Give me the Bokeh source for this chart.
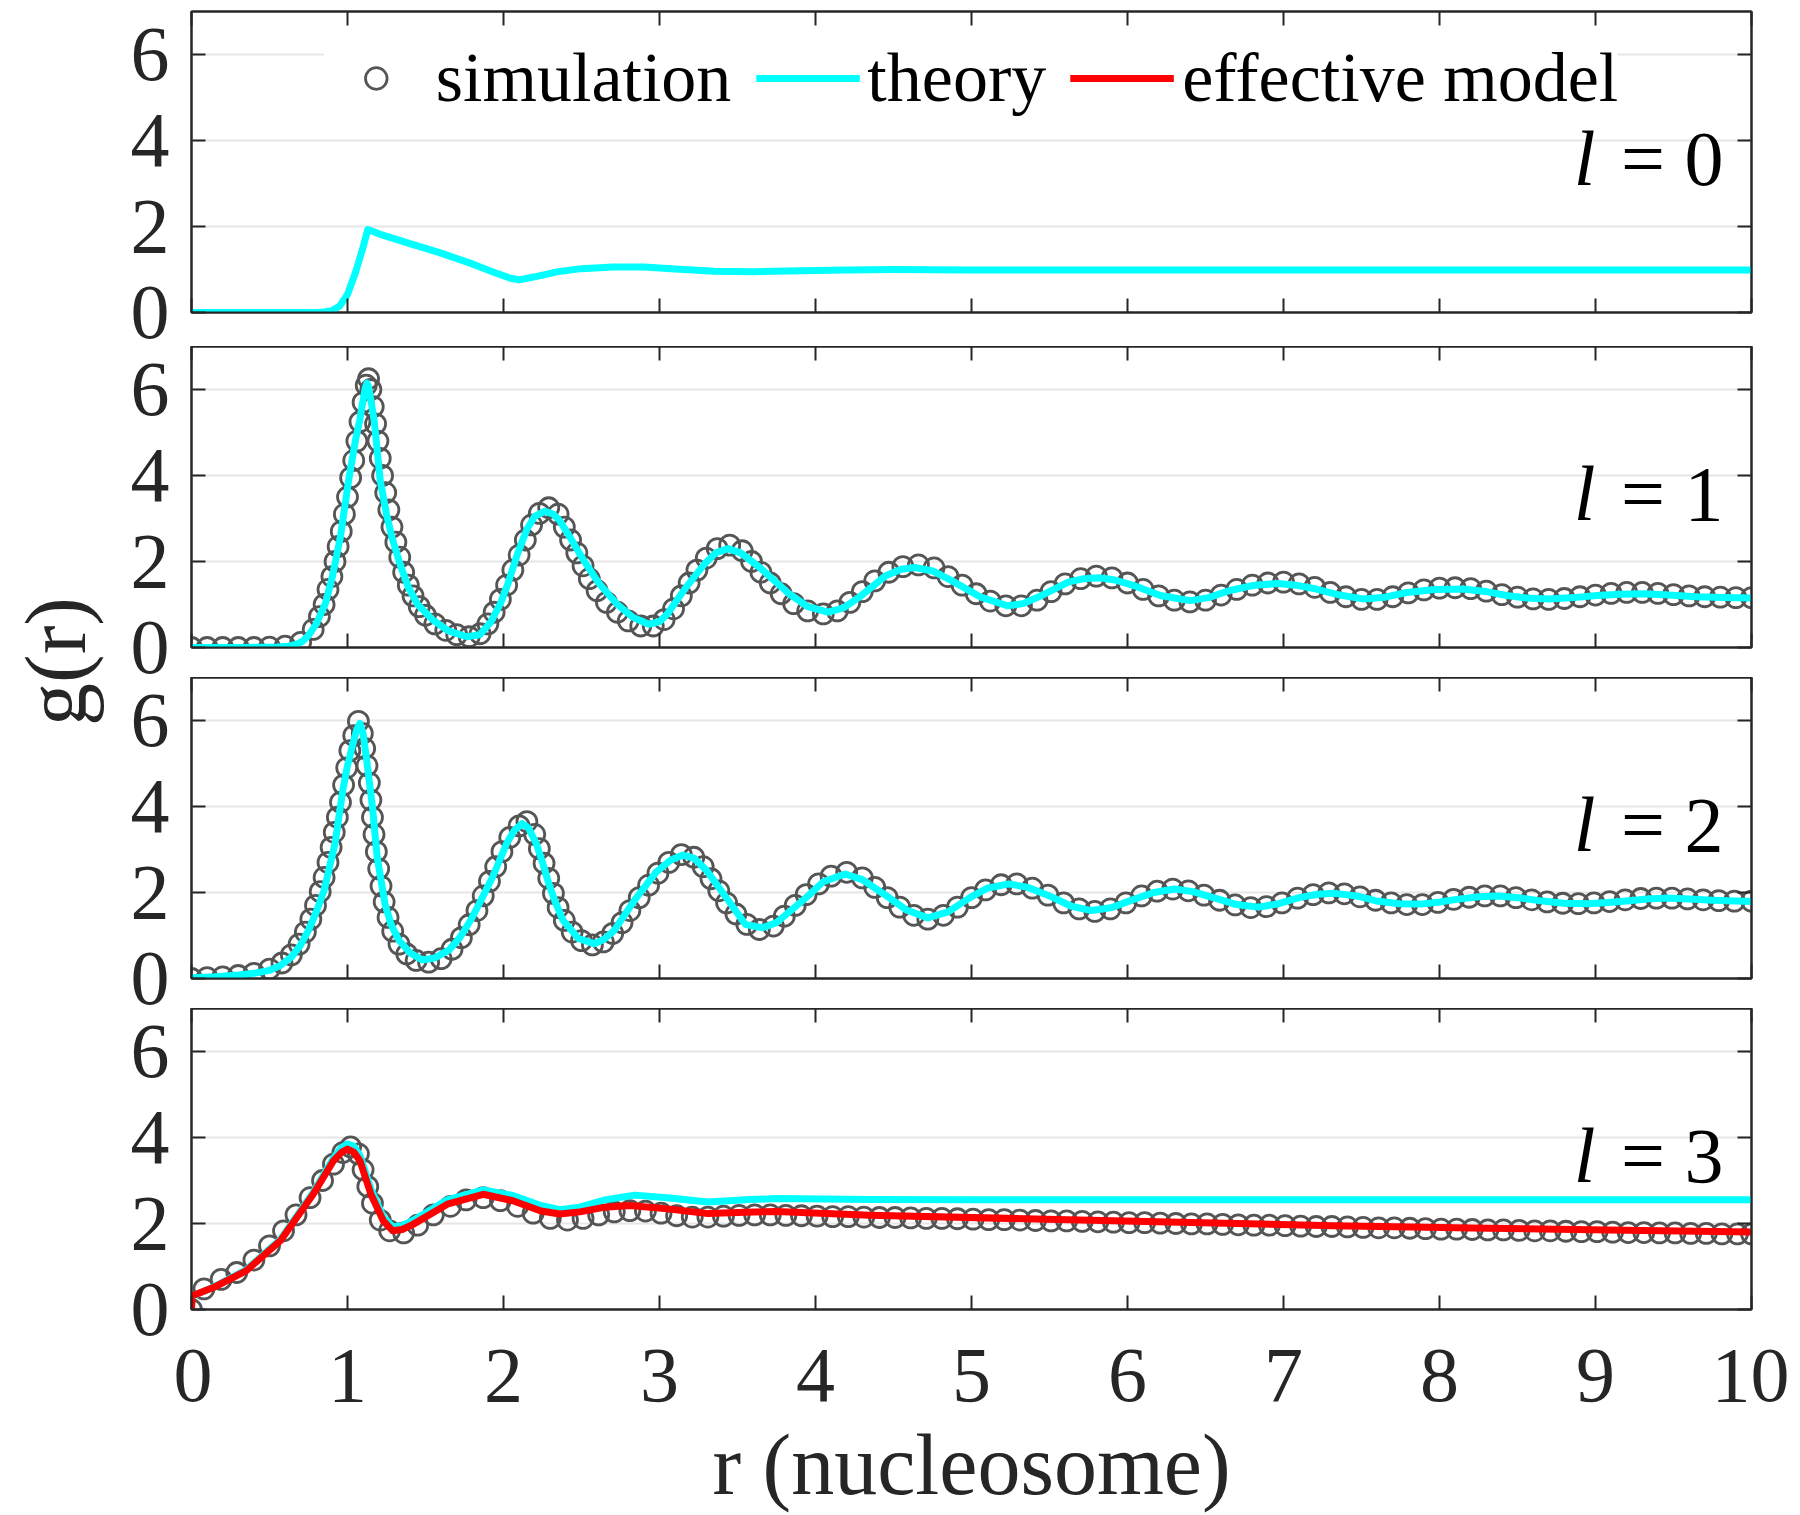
from math import pi
from bokeh.plotting import figure
from bokeh.models import (ColumnDataSource, FixedTicker, LinearAxis, Range1d,
                          Label, Legend, LegendItem)
from bokeh.layouts import row, column
from bokeh.embed import file_html
from bokeh.resources import INLINE

FONT = "Liberation Serif"
X_TICKS = [0, 1, 2, 3, 4, 5, 6, 7, 8, 9, 10]
Y_TICKS = [0, 2, 4, 6]
PANEL_NAMES = ["0", "1", "2", "3"]
X_LABEL = "r (nucleosome)"
Y_LABEL = "g(r)"

# ---- l = 0 : theory only ----
theory0 = [(0, 0), (0.5, 0), (0.8, 0), (0.85, 0.01), (0.9, 0.04), (0.95, 0.15),
           (1.0, 0.42), (1.05, 0.92), (1.1, 1.52), (1.13, 1.93), (1.16, 1.89),
           (1.2, 1.83), (1.4, 1.6), (1.6, 1.38), (1.8, 1.13), (1.95, 0.92),
           (2.05, 0.79), (2.1, 0.76), (2.2, 0.83), (2.35, 0.95), (2.5, 1.02),
           (2.7, 1.06), (2.9, 1.06), (3.1, 1.01), (3.35, 0.96), (3.6, 0.95),
           (3.9, 0.97), (4.2, 0.99), (4.5, 1.0), (5.0, 0.99), (6, 0.99),
           (7, 0.99), (8, 0.99), (9, 0.99), (10, 0.99)]

# ---- l = 1 ----
theory1 = [(0, 0.0), (0.3, 0.0), (0.55, 0.01), (0.62, 0.03), (0.67, 0.07), (0.71, 0.14),
           (0.75, 0.28), (0.8, 0.55), (0.858, 1.02), (0.9, 1.6), (0.954, 2.56),
           (1.007, 3.88), (1.05, 4.8), (1.078, 5.28), (1.1, 5.75), (1.115, 6.05),
           (1.125, 6.15), (1.135, 6.05), (1.15, 5.75), (1.172, 5.25), (1.21, 3.88),
           (1.25, 3.1), (1.285, 2.56), (1.34, 1.9), (1.39, 1.40), (1.45, 1.0),
           (1.55, 0.63), (1.65, 0.38), (1.765, 0.25), (1.85, 0.3), (1.92, 0.6),
           (1.98, 1.02), (2.03, 1.5), (2.09, 2.18), (2.15, 2.75), (2.2, 3.05),
           (2.266, 3.17), (2.32, 3.1), (2.36, 2.95), (2.42, 2.6), (2.51, 2.05),
           (2.61, 1.5), (2.73, 1.0), (2.83, 0.7), (2.93, 0.54), (3.0, 0.6),
           (3.05, 0.78), (3.17, 1.40), (3.29, 1.95), (3.36, 2.2), (3.44, 2.30),
           (3.52, 2.2), (3.64, 1.87), (3.83, 1.25), (3.95, 0.95), (4.08, 0.82),
           (4.18, 0.92), (4.28, 1.17), (4.45, 1.67), (4.55, 1.82), (4.64, 1.86),
           (4.75, 1.78), (4.87, 1.56), (5.06, 1.17), (5.23, 0.97), (5.33, 1.02),
           (5.45, 1.21), (5.62, 1.52), (5.72, 1.6), (5.82, 1.62), (5.92, 1.57),
           (6.04, 1.44), (6.21, 1.21), (6.40, 1.09), (6.52, 1.16), (6.65, 1.32),
           (6.8, 1.44), (6.96, 1.49), (7.08, 1.45), (7.21, 1.36), (7.36, 1.22),
           (7.51, 1.13), (7.65, 1.17), (7.79, 1.28), (7.97, 1.35), (8.15, 1.36),
           (8.3, 1.3), (8.43, 1.21), (8.56, 1.15), (8.70, 1.13), (8.86, 1.16),
           (9.01, 1.21), (9.16, 1.24), (9.31, 1.25), (9.47, 1.22), (9.64, 1.18),
           (9.82, 1.16), (10, 1.15)]

sim1 = [(0.0, 0.0), (0.1, 0.0), (0.2, 0.0), (0.3, 0.0), (0.4, 0.0), (0.5, 0.01),
        (0.6, 0.03), (0.7, 0.12), (0.78, 0.42), (0.82, 0.72), (0.85, 1.0),
        (0.875, 1.35), (0.9, 1.65), (0.92, 2.0), (0.94, 2.35), (0.96, 2.7),
        (0.98, 3.1), (1.0, 3.5), (1.02, 3.95), (1.04, 4.35), (1.06, 4.8),
        (1.08, 5.25), (1.1, 5.7), (1.12, 6.1), (1.135, 6.25), (1.15, 6.0),
        (1.165, 5.6), (1.18, 5.2), (1.195, 4.8), (1.21, 4.4), (1.225, 4.0),
        (1.245, 3.6), (1.265, 3.2), (1.285, 2.8), (1.31, 2.45), (1.335, 2.1),
        (1.36, 1.75), (1.39, 1.45), (1.42, 1.2), (1.46, 0.95), (1.5, 0.75),
        (1.56, 0.55), (1.63, 0.4), (1.7, 0.3), (1.78, 0.25), (1.85, 0.32),
        (1.9, 0.55), (1.94, 0.82), (1.98, 1.12), (2.02, 1.45), (2.06, 1.8),
        (2.1, 2.15), (2.14, 2.5), (2.18, 2.85), (2.23, 3.12), (2.29, 3.25),
        (2.35, 3.1), (2.39, 2.8), (2.43, 2.5), (2.47, 2.2), (2.51, 1.9),
        (2.55, 1.6), (2.6, 1.32), (2.66, 1.05), (2.73, 0.82), (2.8, 0.62),
        (2.88, 0.5), (2.96, 0.5), (3.03, 0.65), (3.09, 0.9), (3.14, 1.2),
        (3.19, 1.5), (3.24, 1.8), (3.3, 2.08), (3.37, 2.3), (3.45, 2.38),
        (3.53, 2.25), (3.59, 2.0), (3.65, 1.75), (3.71, 1.5), (3.78, 1.25),
        (3.86, 1.02), (3.95, 0.85), (4.05, 0.78), (4.14, 0.85), (4.22, 1.05),
        (4.3, 1.3), (4.38, 1.55), (4.47, 1.75), (4.56, 1.88), (4.66, 1.92),
        (4.76, 1.85), (4.85, 1.65), (4.94, 1.45), (5.03, 1.25), (5.12, 1.08),
        (5.22, 0.97), (5.32, 0.97), (5.42, 1.1), (5.51, 1.3), (5.6, 1.48),
        (5.7, 1.6), (5.8, 1.66), (5.9, 1.62), (6.0, 1.5), (6.1, 1.35),
        (6.2, 1.2), (6.3, 1.1), (6.4, 1.06), (6.5, 1.1), (6.6, 1.22),
        (6.7, 1.35), (6.8, 1.45), (6.9, 1.5), (7.0, 1.52), (7.1, 1.48),
        (7.2, 1.4), (7.3, 1.28), (7.4, 1.18), (7.5, 1.12), (7.6, 1.12),
        (7.7, 1.18), (7.8, 1.27), (7.9, 1.34), (8.0, 1.38), (8.1, 1.39),
        (8.2, 1.37), (8.3, 1.31), (8.4, 1.23), (8.5, 1.17), (8.6, 1.13),
        (8.7, 1.12), (8.8, 1.14), (8.9, 1.18), (9.0, 1.22), (9.1, 1.26),
        (9.2, 1.28), (9.3, 1.28), (9.4, 1.26), (9.5, 1.23), (9.6, 1.2),
        (9.7, 1.18), (9.8, 1.17), (9.9, 1.16), (10.0, 1.16)]

# ---- l = 2 ----
theory2 = [(0, 0.02), (0.15, 0.04), (0.30, 0.08), (0.40, 0.12), (0.50, 0.19),
           (0.57, 0.3), (0.64, 0.50), (0.70, 0.78), (0.75, 1.12), (0.80, 1.55),
           (0.85, 2.05), (0.92, 3.14), (0.97, 4.38), (1.0, 4.95), (1.03, 5.39),
           (1.06, 5.8), (1.08, 5.93), (1.10, 5.7), (1.12, 5.16), (1.16, 3.99),
           (1.19, 2.83), (1.24, 1.74), (1.28, 1.25), (1.33, 0.89), (1.40, 0.6),
           (1.48, 0.43), (1.56, 0.48), (1.65, 0.66), (1.72, 0.95), (1.79, 1.36),
           (1.86, 1.85), (1.93, 2.36), (2.02, 3.14), (2.07, 3.45), (2.12, 3.60),
           (2.16, 3.5), (2.21, 3.14), (2.25, 2.7), (2.29, 2.21), (2.33, 1.8),
           (2.38, 1.36), (2.48, 0.93), (2.58, 0.81), (2.64, 0.9), (2.71, 1.12),
           (2.84, 1.82), (2.98, 2.48), (3.07, 2.75), (3.15, 2.87), (3.22, 2.8),
           (3.30, 2.52), (3.44, 1.82), (3.55, 1.26), (3.66, 1.18), (3.75, 1.3),
           (3.94, 1.88), (4.05, 2.25), (4.19, 2.43), (4.30, 2.3), (4.44, 1.96),
           (4.58, 1.6), (4.72, 1.41), (4.85, 1.55), (4.99, 1.88), (5.1, 2.1),
           (5.24, 2.20), (5.36, 2.12), (5.50, 1.92), (5.64, 1.68), (5.77, 1.58),
           (5.9, 1.65), (6.04, 1.84), (6.17, 2.0), (6.30, 2.08), (6.42, 2.02),
           (6.55, 1.88), (6.70, 1.72), (6.84, 1.66), (6.97, 1.74), (7.10, 1.88),
           (7.22, 1.96), (7.33, 1.98), (7.47, 1.92), (7.60, 1.80), (7.74, 1.74),
           (7.88, 1.73), (8.0, 1.78), (8.11, 1.84), (8.25, 1.9), (8.38, 1.92),
           (8.52, 1.87), (8.66, 1.80), (8.8, 1.75), (8.95, 1.74), (9.08, 1.77),
           (9.20, 1.80), (9.33, 1.85), (9.46, 1.87), (9.6, 1.85), (9.75, 1.82),
           (10, 1.79)]

sim2 = [(0.0, 0.0), (0.1, 0.02), (0.2, 0.04), (0.3, 0.07), (0.4, 0.12), (0.5, 0.22),
        (0.58, 0.36), (0.64, 0.55), (0.69, 0.8), (0.73, 1.08), (0.765, 1.38),
        (0.795, 1.7), (0.825, 2.02), (0.85, 2.35), (0.875, 2.7), (0.895, 3.05),
        (0.915, 3.4), (0.935, 3.75), (0.955, 4.1), (0.975, 4.5), (0.995, 4.9),
        (1.015, 5.3), (1.04, 5.65), (1.07, 5.98), (1.095, 5.7), (1.11, 5.35),
        (1.125, 4.95), (1.14, 4.55), (1.15, 4.15), (1.16, 3.75), (1.17, 3.35),
        (1.185, 2.95), (1.2, 2.55), (1.215, 2.15), (1.235, 1.78), (1.26, 1.42),
        (1.29, 1.1), (1.33, 0.8), (1.38, 0.57), (1.44, 0.42), (1.52, 0.38),
        (1.6, 0.46), (1.67, 0.68), (1.73, 0.95), (1.78, 1.25), (1.83, 1.58),
        (1.87, 1.92), (1.91, 2.26), (1.95, 2.6), (1.99, 2.95), (2.04, 3.28),
        (2.1, 3.55), (2.15, 3.65), (2.2, 3.35), (2.23, 3.02), (2.26, 2.68),
        (2.29, 2.33), (2.32, 1.98), (2.35, 1.65), (2.39, 1.35), (2.44, 1.08),
        (2.5, 0.88), (2.57, 0.78), (2.64, 0.85), (2.7, 1.05), (2.76, 1.3),
        (2.81, 1.58), (2.87, 1.88), (2.93, 2.17), (2.99, 2.45), (3.06, 2.7),
        (3.14, 2.88), (3.22, 2.82), (3.28, 2.6), (3.33, 2.32), (3.38, 2.04),
        (3.43, 1.76), (3.49, 1.5), (3.56, 1.26), (3.64, 1.14), (3.73, 1.22),
        (3.8, 1.45), (3.87, 1.7), (3.94, 1.95), (4.02, 2.2), (4.1, 2.38),
        (4.2, 2.47), (4.3, 2.34), (4.38, 2.12), (4.46, 1.88), (4.54, 1.66),
        (4.63, 1.47), (4.72, 1.38), (4.82, 1.47), (4.91, 1.66), (5.0, 1.88),
        (5.09, 2.06), (5.19, 2.18), (5.29, 2.2), (5.39, 2.1), (5.49, 1.94),
        (5.59, 1.76), (5.69, 1.62), (5.79, 1.56), (5.89, 1.62), (5.99, 1.76),
        (6.09, 1.92), (6.19, 2.03), (6.29, 2.08), (6.39, 2.04), (6.49, 1.94),
        (6.59, 1.82), (6.69, 1.71), (6.79, 1.65), (6.89, 1.67), (6.99, 1.76),
        (7.09, 1.87), (7.19, 1.95), (7.29, 1.99), (7.39, 1.97), (7.49, 1.9),
        (7.59, 1.82), (7.69, 1.76), (7.79, 1.72), (7.89, 1.72), (7.99, 1.77),
        (8.09, 1.84), (8.19, 1.89), (8.29, 1.92), (8.39, 1.92), (8.49, 1.88),
        (8.59, 1.83), (8.69, 1.78), (8.79, 1.75), (8.89, 1.74), (8.99, 1.76),
        (9.09, 1.79), (9.19, 1.83), (9.29, 1.86), (9.39, 1.87), (9.49, 1.87),
        (9.59, 1.85), (9.69, 1.83), (9.79, 1.81), (9.89, 1.8), (10.0, 1.8)]

# ---- l = 3 ----
theory3 = [(0, 0.3), (0.14, 0.52), (0.35, 0.92), (0.57, 1.63), (0.78, 2.72),
           (0.91, 3.52), (0.96, 3.76), (1.0, 3.85), (1.04, 3.8), (1.08, 3.58),
           (1.15, 2.8), (1.23, 2.15), (1.29, 1.92), (1.35, 1.95), (1.42, 2.07),
           (1.64, 2.55), (1.87, 2.78), (2.06, 2.65), (2.24, 2.42), (2.36, 2.32),
           (2.49, 2.38), (2.65, 2.55), (2.84, 2.66), (3.05, 2.6), (3.31, 2.5),
           (3.55, 2.55), (3.75, 2.58), (4.35, 2.56), (5, 2.55), (6, 2.55),
           (7, 2.55), (8, 2.55), (9, 2.55), (10, 2.55)]

effective3 = [(0, 0.0), (0.005, 0.32), (0.14, 0.51), (0.35, 0.90), (0.57, 1.60),
              (0.78, 2.68), (0.91, 3.46), (0.96, 3.65), (1.0, 3.73), (1.04, 3.66),
              (1.08, 3.46), (1.15, 2.68), (1.23, 2.06), (1.29, 1.83), (1.35, 1.86),
              (1.42, 1.98), (1.64, 2.45), (1.87, 2.68), (2.06, 2.53), (2.24, 2.29),
              (2.36, 2.22), (2.49, 2.27), (2.65, 2.38), (2.81, 2.42), (3.05, 2.34),
              (3.31, 2.23), (3.55, 2.26), (3.75, 2.28), (4.35, 2.19), (5.34, 2.11),
              (6.33, 2.03), (7.32, 1.95), (8.31, 1.89), (9.30, 1.84), (10, 1.80)]

sim3 = [(0.0, 0.0), (0.08, 0.48), (0.19, 0.7), (0.29, 0.86), (0.4, 1.15), (0.5, 1.48),
        (0.59, 1.83), (0.67, 2.2), (0.76, 2.6), (0.84, 3.0), (0.91, 3.38),
        (0.97, 3.65), (1.02, 3.78), (1.07, 3.62), (1.1, 3.25), (1.13, 2.86),
        (1.16, 2.47), (1.21, 2.08), (1.27, 1.83), (1.36, 1.78), (1.45, 1.96),
        (1.55, 2.2), (1.66, 2.4), (1.76, 2.55), (1.87, 2.6), (1.98, 2.53),
        (2.09, 2.4), (2.19, 2.24), (2.3, 2.12), (2.41, 2.08), (2.51, 2.12),
        (2.61, 2.2), (2.71, 2.27), (2.81, 2.3), (2.91, 2.29), (3.01, 2.24),
        (3.11, 2.18), (3.21, 2.15), (3.31, 2.15), (3.41, 2.17), (3.51, 2.19),
        (3.61, 2.2), (3.71, 2.2), (3.81, 2.19), (3.91, 2.18), (4.01, 2.17),
        (4.11, 2.16), (4.21, 2.16), (4.31, 2.15), (4.41, 2.14), (4.51, 2.14),
        (4.61, 2.13), (4.71, 2.12), (4.81, 2.12), (4.91, 2.11), (5.01, 2.1),
        (5.11, 2.09), (5.21, 2.09), (5.31, 2.08), (5.41, 2.07), (5.51, 2.06),
        (5.61, 2.06), (5.71, 2.05), (5.81, 2.04), (5.91, 2.03), (6.01, 2.02),
        (6.11, 2.02), (6.21, 2.01), (6.31, 2.0), (6.41, 1.99), (6.51, 1.99),
        (6.61, 1.98), (6.71, 1.97), (6.81, 1.96), (6.91, 1.96), (7.01, 1.95),
        (7.11, 1.94), (7.21, 1.93), (7.31, 1.93), (7.41, 1.92), (7.51, 1.91),
        (7.61, 1.9), (7.71, 1.9), (7.81, 1.89), (7.91, 1.88), (8.01, 1.87),
        (8.11, 1.87), (8.21, 1.86), (8.31, 1.85), (8.41, 1.85), (8.51, 1.84),
        (8.61, 1.83), (8.71, 1.83), (8.81, 1.82), (8.91, 1.81), (9.01, 1.81),
        (9.11, 1.8), (9.21, 1.79), (9.31, 1.79), (9.41, 1.78), (9.51, 1.78),
        (9.61, 1.77), (9.71, 1.77), (9.81, 1.76), (9.91, 1.76), (10.0, 1.76)]

AX_COLOR = "#262626"
CYAN = "#00FFFF"
RED = "#FF0000"
SIM_COLOR = "#555555"
TICK_FONT = "78px"

# layout (pixels)
PAGE_H = 1515
FRAME_W = 1560
FRAME_H = 301
Y_MAX = 7
BORDERS = [(11, 34), (0, 30), (0, 30), (0, 206)]   # (top, bottom) per panel
STRIP_FRAME_W = 116
STRIP_AXIS_W = 57
PANEL_LEFT = 18


def src(pairs):
    return ColumnDataSource(data=dict(x=[p[0] for p in pairs], y=[p[1] for p in pairs]))


def style_axis(ax, ticks, labels):
    ax.ticker = FixedTicker(ticks=ticks)
    ax.major_tick_in = 14
    ax.major_tick_out = 0
    ax.minor_tick_line_color = None
    ax.major_tick_line_color = AX_COLOR
    ax.major_tick_line_width = 2
    ax.axis_line_color = AX_COLOR
    ax.axis_line_width = 2
    if labels:
        ax.major_label_text_font = FONT
        ax.major_label_text_font_size = TICK_FONT
        ax.major_label_text_color = AX_COLOR
    else:
        ax.major_label_text_font_size = "0px"
        ax.major_label_text_color = None
        ax.major_label_text_alpha = 0
        ax.major_label_standoff = 0


def make_panel(k, theory, sim, eff):
    top, bottom = BORDERS[k]
    last = k == 3
    p = figure(frame_width=FRAME_W, frame_height=FRAME_H,
               x_range=Range1d(0, 10), y_range=Range1d(0, Y_MAX),
               output_backend="svg", toolbar_location=None,
               min_border_left=PANEL_LEFT, min_border_right=38,
               min_border_top=top, min_border_bottom=bottom)
    p.outline_line_color = AX_COLOR
    p.outline_line_width = 2
    p.xgrid.visible = False
    p.ygrid.ticker = FixedTicker(ticks=[2, 4, 6])
    p.ygrid.grid_line_color = "#e6e6e6"
    p.ygrid.grid_line_width = 2

    style_axis(p.xaxis[0], X_TICKS, last)
    style_axis(p.yaxis[0], Y_TICKS, False)
    if last:
        p.xaxis[0].major_label_standoff = 40
        p.xaxis[0].axis_label = X_LABEL
        p.xaxis[0].axis_label_text_font = FONT
        p.xaxis[0].axis_label_text_font_size = "86px"
        p.xaxis[0].axis_label_text_font_style = "normal"
        p.xaxis[0].axis_label_text_color = AX_COLOR
        p.xaxis[0].axis_label_standoff = 13
    right = LinearAxis()
    style_axis(right, Y_TICKS, False)
    p.add_layout(right, "right")
    above = LinearAxis()
    style_axis(above, X_TICKS, False)
    p.add_layout(above, "above")

    if sim is not None:
        p.scatter("x", "y", source=src(sim), marker="circle", size=20,
                  fill_alpha=0, line_color=SIM_COLOR, line_width=2.8)
    r_th = p.line("x", "y", source=src(theory), line_color=CYAN, line_width=7,
                  line_join="round")
    if eff is not None:
        p.line("x", "y", source=src(eff), line_color=RED, line_width=7,
               line_join="round")

    p.add_layout(Label(x=9.82, y=3.58, text="= " + PANEL_NAMES[k], text_align="right",
                       text_baseline="middle", text_font=FONT, text_font_size="78px",
                       text_color="black"))
    p.add_layout(Label(x=9.0, y=3.58, text="l", text_align="right",
                       text_baseline="middle", text_font=FONT, text_font_size="78px",
                       text_font_style="italic", text_color="black"))
    return p, r_th


p0, th0 = make_panel(0, theory0, None, None)
nan = float("nan")
leg_sim = p0.scatter("x", "y", source=ColumnDataSource(data=dict(x=[nan], y=[nan])),
                     marker="circle", size=20, fill_alpha=0, line_color=SIM_COLOR,
                     line_width=2.8)
leg_eff = p0.line("x", "y", source=ColumnDataSource(data=dict(x=[nan, nan], y=[nan, nan])),
                  line_color=RED, line_width=7)
legend = Legend(items=[LegendItem(label="simulation", renderers=[leg_sim]),
                       LegendItem(label="theory", renderers=[th0]),
                       LegendItem(label="effective model", renderers=[leg_eff])],
                orientation="horizontal", location="top_center",
                label_text_font=FONT, label_text_font_size="70px",
                label_text_color="black", glyph_width=104, glyph_height=54,
                label_standoff=8, spacing=24, padding=4, margin=27,
                border_line_color=None, background_fill_color="white",
                background_fill_alpha=1.0)
p0.add_layout(legend)

p1, _ = make_panel(1, theory1, sim1, None)
p2, _ = make_panel(2, theory2, sim2, None)
p3, _ = make_panel(3, theory3, sim3, effective3)

# left strip: shared y tick labels for the four panels and the y label
tick_pos = []
tick_txt = {}
y_top = 0
for (top, bottom) in BORDERS:
    frame_bottom = y_top + top + FRAME_H
    for v in Y_TICKS:
        pos = int(round(PAGE_H - frame_bottom + v * FRAME_H / Y_MAX))
        tick_pos.append(pos)
        tick_txt[pos] = str(v)
    y_top = frame_bottom + bottom

lab = figure(frame_width=STRIP_FRAME_W, frame_height=PAGE_H,
             x_range=Range1d(0, STRIP_FRAME_W), y_range=Range1d(0, PAGE_H),
             output_backend="svg", toolbar_location=None,
             min_border_left=0, min_border_top=0, min_border_bottom=0,
             min_border_right=STRIP_AXIS_W,
             x_axis_location=None, y_axis_location="right")
lab.outline_line_color = None
lab.grid.visible = False
yax = lab.yaxis[0]
yax.ticker = FixedTicker(ticks=tick_pos)
yax.major_label_overrides = tick_txt
yax.major_label_text_font = FONT
yax.major_label_text_font_size = TICK_FONT
yax.major_label_text_color = AX_COLOR
yax.major_label_standoff = 8
yax.axis_line_color = None
yax.major_tick_line_color = None
yax.minor_tick_line_color = None
lab.add_layout(Label(x=55, y=PAGE_H - 661, text=Y_LABEL, angle=pi / 2, text_align="center",
                     text_baseline="middle", text_font=FONT, text_font_size="86px",
                     text_color=AX_COLOR))

layout = row(lab, column(p0, p1, p2, p3))
open("out.html", "w").write(file_html(layout, INLINE))
